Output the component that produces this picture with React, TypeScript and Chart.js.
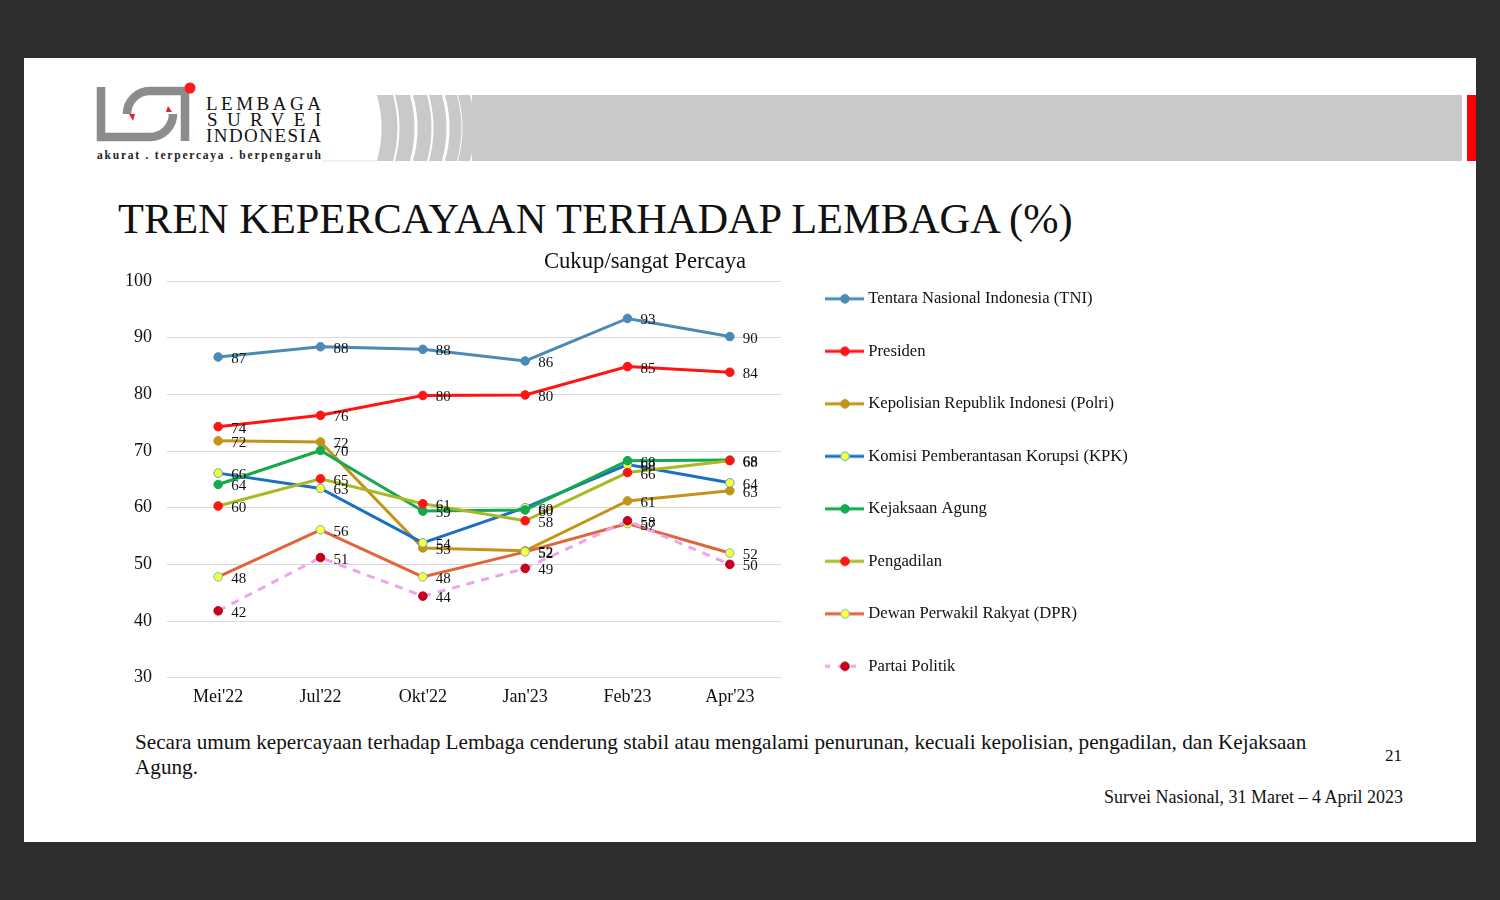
import React, { useEffect, useRef } from "react";
import { Chart, registerables } from "chart.js";

Chart.register(...registerables);

const MONTHS = ["Mei'22", "Jul'22", "Okt'22", "Jan'23", "Feb'23", "Apr'23"];
const TNI = [86.6, 88.4, 87.95, 85.9, 93.4, 90.2];
const PRESIDEN = [74.3, 76.3, 79.8, 79.9, 84.9, 83.9];
const POLRI = [71.8, 71.6, 52.9, 52.4, 61.2, 63.0];
const KPK = [66.1, 63.4, 53.8, 60.0, 67.6, 64.4];
const KEJAKSAAN = [64.1, 70.1, 59.4, 59.6, 68.3, 68.4];
const PENGADILAN = [60.3, 65.1, 60.7, 57.7, 66.2, 68.3];
const DPR = [47.8, 56.1, 47.8, 52.2, 57.2, 52.0];
const PARPOL = [41.8, 51.2, 44.4, 49.3, 57.7, 50.0];

const SERIES_NAMES = [
  "Tentara Nasional Indonesia (TNI)",
  "Presiden",
  "Kepolisian Republik Indonesi (Polri)",
  "Komisi Pemberantasan Korupsi (KPK)",
  "Kejaksaan Agung",
  "Pengadilan",
  "Dewan Perwakil Rakyat (DPR)",
  "Partai Politik",
];
const SERIES_VALUES = [TNI, PRESIDEN, POLRI, KPK, KEJAKSAAN, PENGADILAN, DPR, PARPOL];

const Y_MIN = 30;
const Y_MAX = 100;
const Y_STEP = 10;

const PAGE_TITLE = "TREN KEPERCAYAAN TERHADAP LEMBAGA (%)";
const CHART_TITLE = "Cukup/sangat Percaya";
const NOTE_LINE_1 =
  "Secara umum kepercayaan terhadap Lembaga cenderung stabil atau mengalami penurunan, kecuali kepolisian, pengadilan, dan Kejaksaan";
const NOTE_LINE_2 = "Agung.";
const PAGE_NO = "21";
const SOURCE = "Survei Nasional, 31 Maret \u2013 4 April 2023";

const SERIF = '"Liberation Serif", "Times New Roman", serif';

// style per series: line colour, marker fill, marker border, dash
const STYLES = [
  { line: "#4a8ab5", fill: "#4a8ab5", border: "#4a8ab5", dash: [] as number[] },
  { line: "#ff1414", fill: "#ff1414", border: "#ff1414", dash: [] as number[] },
  { line: "#c39417", fill: "#c39417", border: "#c39417", dash: [] as number[] },
  { line: "#1b6fc2", fill: "#ffff3c", border: "#4aa6c8", dash: [] as number[] },
  { line: "#15a84c", fill: "#15a84c", border: "#15a84c", dash: [] as number[] },
  { line: "#a9b925", fill: "#ff1414", border: "#ff1414", dash: [] as number[] },
  { line: "#e2643a", fill: "#ffff3c", border: "#5ec3be", dash: [] as number[] },
  { line: "#f0a2ec", fill: "#c4001c", border: "#c4001c", dash: [8, 7] },
];

// canvas placement on the page
const CV_LEFT = 100;
const CV_TOP = 245;
const CV_W = 1100;
const CV_H = 480;

function makeLegendIcon(s: { line: string; fill: string; border: string; dash: number[] }) {
  const c = document.createElement("canvas");
  c.width = 48;
  c.height = 12;
  const g = c.getContext("2d")!;
  g.strokeStyle = s.line;
  g.lineWidth = 3;
  g.setLineDash(s.dash.length ? [5, 8] : []);
  g.beginPath();
  g.moveTo(9, 6);
  g.lineTo(48, 6);
  g.stroke();
  g.setLineDash([]);
  g.beginPath();
  g.arc(29, 6, 4.3, 0, Math.PI * 2);
  g.fillStyle = s.fill;
  g.fill();
  g.lineWidth = 1;
  g.strokeStyle = s.border;
  g.stroke();
  return c;
}

const valueLabelPlugin = {
  id: "valueLabels",
  afterDatasetsDraw(chart: any) {
    const ctx = chart.ctx;
    ctx.save();
    ctx.font = `15px ${SERIF}`;
    ctx.fillStyle = "#111";
    ctx.textAlign = "left";
    ctx.textBaseline = "middle";
    chart.data.datasets.forEach((ds: any, i: number) => {
      const meta = chart.getDatasetMeta(i);
      meta.data.forEach((pt: any, j: number) => {
        ctx.fillText(String(Math.round(ds.data[j])), pt.x + 13, pt.y + 2);
      });
    });
    ctx.restore();
  },
};

const placementPlugin = {
  id: "placement",
  afterLayout(chart: any) {
    const lg = chart.legend;
    if (lg) {
      lg.left = 820 - CV_LEFT - 35.9;
      lg.top = 9.6;
      lg.right = chart.width;
      lg.bottom = chart.height + 400;
      lg.width = lg.right - lg.left;
      lg.height = lg.bottom - lg.top;
    }
    const t = chart.titleBlock;
    if (t) {
      const cx = 645 - CV_LEFT;
      t.left = cx - 200;
      t.right = cx + 200;
      t.width = 400;
    }
  },
};

function TrendChart() {
  const ref = useRef<HTMLCanvasElement | null>(null);
  useEffect(() => {
    if (!ref.current) return;
    const icons = STYLES.map(makeLegendIcon);
    const datasets = SERIES_VALUES.map((vals, i) => ({
      label: SERIES_NAMES[i],
      data: vals,
      borderColor: STYLES[i].line,
      backgroundColor: STYLES[i].line,
      borderWidth: 3,
      borderDash: STYLES[i].dash,
      pointRadius: 4.3,
      pointBorderWidth: 1,
      pointBackgroundColor: STYLES[i].fill,
      pointBorderColor: STYLES[i].border,
      tension: 0,
      order: SERIES_VALUES.length - i,
      clip: false as any,
    }));
    const chart = new Chart(ref.current, {
      type: "line",
      data: { labels: MONTHS, datasets },
      options: {
        responsive: false,
        animation: false,
        layout: { padding: { left: 0, right: CV_W - (781 - CV_LEFT), top: 0, bottom: 7.7 } },
        scales: {
          x: {
            type: "category",
            offset: true,
            grid: { display: false, drawTicks: false },
            border: { display: false },
            ticks: { font: { family: SERIF, size: 18 }, color: "#111", padding: 9 },
          },
          y: {
            min: Y_MIN,
            max: Y_MAX,
            ticks: { stepSize: Y_STEP, font: { family: SERIF, size: 18 }, color: "#111", padding: 15 },
            grid: { color: "#d9d9d9", lineWidth: 1, drawTicks: false },
            border: { display: false },
            afterFit: (s: any) => {
              s.width = 67;
            },
          },
        },
        plugins: {
          title: {
            display: true,
            text: CHART_TITLE,
            color: "#111",
            font: { family: SERIF, size: 22.7, weight: "normal" },
            padding: { top: 3.6, bottom: 5.2 },
          },
          legend: {
            position: "chartArea",
            fullSize: false,
            align: "start",
            labels: {
              usePointStyle: true,
              pointStyleWidth: 40,
              padding: 35.9,
              color: "#111",
              font: { family: SERIF, size: 16.6 },
              generateLabels: (ch: any) =>
                ch.data.datasets.map((ds: any, i: number) => ({
                  text: ds.label,
                  pointStyle: icons[i],
                  fillStyle: STYLES[i].line,
                  strokeStyle: STYLES[i].line,
                  lineWidth: 0,
                  hidden: false,
                  datasetIndex: i,
                  fontColor: "#111",
                })),
            },
          },
          tooltip: { enabled: false },
        },
      } as any,
      plugins: [valueLabelPlugin, placementPlugin],
    });
    return () => chart.destroy();
  }, []);
  return (
    <canvas
      ref={ref}
      width={CV_W}
      height={CV_H}
      style={{ position: "absolute", left: CV_LEFT, top: CV_TOP, width: CV_W, height: CV_H }}
    />
  );
}

const STRIPES = [
  [377, 393],
  [395, 410],
  [413, 427],
  [429, 442],
  [445, 457],
  [458, 470],
];

export default function App() {
  return (
    <div
      style={{
        position: "absolute",
        left: 0,
        top: 0,
        width: 1500,
        height: 900,
        background: "#2e2e2e",
        overflow: "hidden",
      }}
    >
      <div style={{ position: "absolute", left: 24, top: 58, width: 1452, height: 784, background: "#ffffff" }} />
      <svg
        width={1500}
        height={900}
        style={{ position: "absolute", left: 0, top: 0 }}
        fontFamily={SERIF}
      >
        {/* logo */}
        <path d="M101,87 V137 H150 A23 23 0 0 0 173,114" fill="none" stroke="#8c8c8c" strokeWidth={8.5} />
        <path d="M127,114 A23 23 0 0 1 150,91 H185 V141" fill="none" stroke="#8c8c8c" strokeWidth={8.5} />
        <path d="M129,114 L135,114 L133,121 Z" fill="#e0213a" />
        <path d="M166,112 L172,112 L168,106 Z" fill="#e0213a" />
        <circle cx={190} cy={88} r={5.5} fill="#ff1a1a" />
        <text x={206} y={110} fontSize={19} fill="#111" textLength={115} lengthAdjust="spacing">LEMBAGA</text>
        <text x={207} y={126} fontSize={19} fill="#111" textLength={114} lengthAdjust="spacing">SURVEI</text>
        <text x={206} y={142} fontSize={19} fill="#111" textLength={115} lengthAdjust="spacing">INDONESIA</text>
        <text x={97} y={159} fontSize={11.5} fontWeight="bold" fill="#222" textLength={224} lengthAdjust="spacing">
          akurat . terpercaya . berpengaruh
        </text>
        <line x1={322} y1={161} x2={376} y2={161} stroke="#e2e2e2" strokeWidth={1} />
        {/* header band */}
        {STRIPES.map(([a, b], i) => (
          <path
            key={i}
            d={`M${a},95 Q${a + 9},128 ${a},161 L${b},161 Q${b + 9},128 ${b},95 Z`}
            fill="#c9c9c9"
          />
        ))}
        <rect x={472} y={95} width={990} height={66} fill="#c9c9c9" />
        <rect x={1467} y={95} width={9} height={66} fill="#ff0000" />
        {/* titles and notes */}
        <text x={118} y={233} fontSize={42.4} fill="#111">{PAGE_TITLE}</text>
        <text x={135} y={749} fontSize={21.2} fill="#111">{NOTE_LINE_1}</text>
        <text x={135} y={774} fontSize={21.2} fill="#111">{NOTE_LINE_2}</text>
        <text x={1385} y={761} fontSize={17} fill="#111">{PAGE_NO}</text>
        <text x={1403} y={803} fontSize={18} fill="#111" textAnchor="end">{SOURCE}</text>
      </svg>
      <TrendChart />
    </div>
  );
}
